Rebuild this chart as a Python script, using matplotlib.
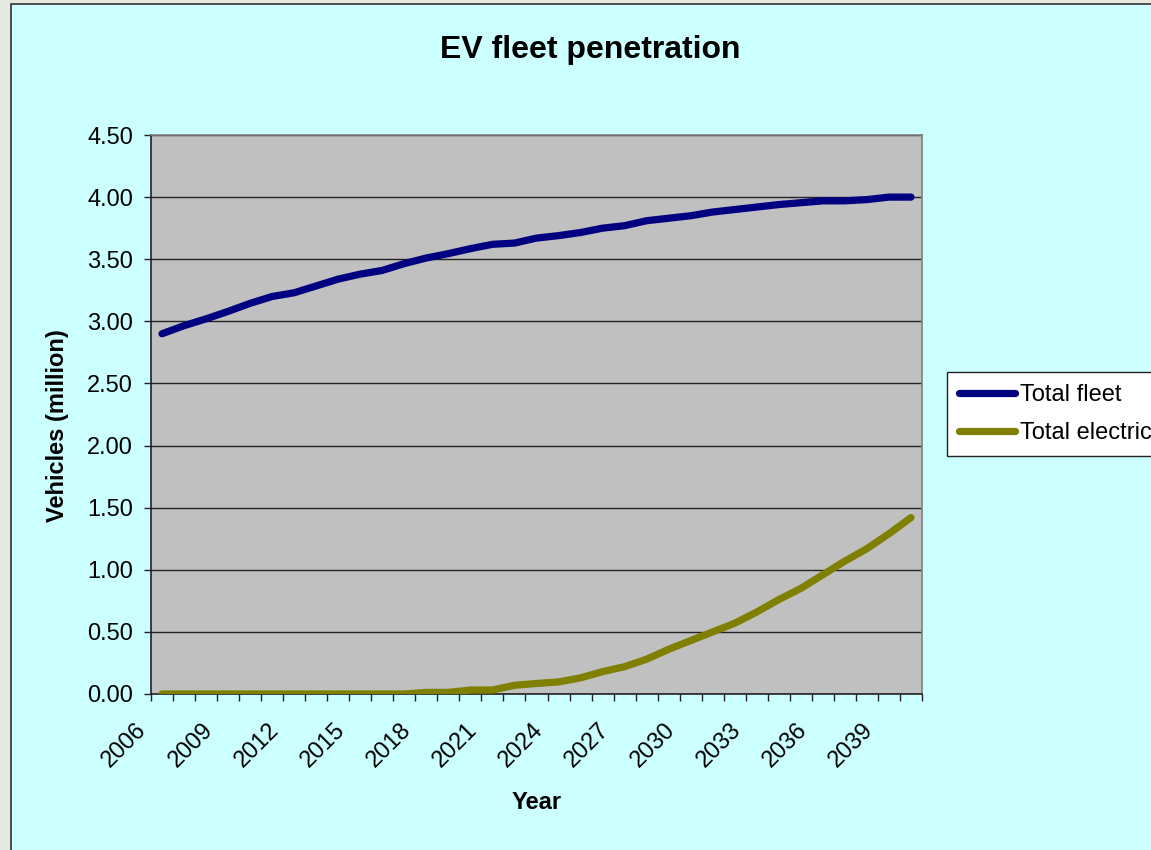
import numpy as np
import matplotlib
matplotlib.use("Agg")
import matplotlib.pyplot as plt
from matplotlib.patches import Rectangle

years = list(range(2006, 2041))

total_fleet = [2.90, 2.965, 3.02, 3.08, 3.145, 3.20, 3.23, 3.285, 3.34, 3.38,
               3.41, 3.465, 3.51, 3.545, 3.585, 3.62, 3.63, 3.67, 3.69, 3.715,
               3.75, 3.77, 3.81, 3.83, 3.85, 3.88, 3.90, 3.92, 3.94, 3.955,
               3.97, 3.97, 3.98, 4.00, 4.00]

total_electric = [0.0, 0.0, 0.0, 0.0, 0.0, 0.0, 0.0, 0.0, 0.0, 0.0,
                  0.0, 0.0, 0.013, 0.013, 0.032, 0.032, 0.07, 0.085, 0.097, 0.13,
                  0.18, 0.22, 0.28, 0.36, 0.43, 0.50, 0.57, 0.66, 0.76, 0.85,
                  0.96, 1.07, 1.17, 1.29, 1.42]

plt.rcParams['font.family'] = ['Liberation Sans', 'DejaVu Sans']

W, H = 1151, 850
fig = plt.figure(figsize=(W / 100, H / 100), dpi=100, facecolor='#E6E9DF')

# cyan chart area with dark frame, running off the right and bottom edges
fig.patches.append(Rectangle((11 / W, -0.05), 1.0, 1 - 4 / H + 0.05,
                             transform=fig.transFigure, facecolor='#CCFFFF',
                             edgecolor='#333333', linewidth=1.2, zorder=-10))

ax = fig.add_axes([151 / W, 1 - 694 / H, (922 - 151) / W, (694 - 135) / H])
ax.set_zorder(1)
ax.set_facecolor('#C0C0C0')

x = np.arange(len(years))
ax.plot(x, total_fleet, color='#000080', linewidth=5.2, solid_capstyle='round',
        label='Total fleet', zorder=3)
ax.plot(x, total_electric, color='#808000', linewidth=5.2, solid_capstyle='round',
        label='Total electric', zorder=3)

ax.set_xlim(-0.5, len(years) - 0.5)
ax.set_ylim(0, 4.5)
ax.set_yticks(np.arange(0, 4.51, 0.5))
ax.set_yticklabels(['%.2f' % v for v in np.arange(0, 4.51, 0.5)])
ax.yaxis.grid(True, color='#222222', linewidth=1)
ax.set_axisbelow(True)

bounds = np.arange(len(years) + 1) - 0.5
labels = [str(years[k]) if (k < len(years) and k % 3 == 0) else '' for k in range(len(bounds))]
ax.set_xticks(bounds)
ax.set_xticklabels(labels, rotation=45, ha='right', va='top')

ax.tick_params(axis='both', direction='out', length=5, width=1, color='#222222',
               labelsize=17, labelcolor='black')
ax.tick_params(axis='x', pad=13)
ax.tick_params(axis='y', pad=8)

for s in ['left', 'bottom']:
    ax.spines[s].set_color('#222222')
    ax.spines[s].set_linewidth(1.2)
for s in ['top', 'right']:
    ax.spines[s].set_color('#808080')
    ax.spines[s].set_linewidth(1.2)

fig.text(590 / W, 1 - 50 / H, 'EV fleet penetration', ha='center', va='center',
         fontsize=23, fontweight='bold', zorder=2)
ax.set_xlabel('Year', fontsize=17, fontweight='bold', labelpad=14)
ax.set_ylabel('Vehicles (million)', fontsize=17, fontweight='bold')
ax.yaxis.set_label_coords(-82 / (922 - 151), 0.48)

leg = fig.legend(loc='upper left', bbox_to_anchor=(947 / W, 1 - 372 / H),
                 fontsize=17, frameon=True, fancybox=False, framealpha=1,
                 handlelength=2.4, handletextpad=0.2, labelspacing=0.7,
                 borderpad=0.5, borderaxespad=0)
leg.set_zorder(2)
leg.get_frame().set_edgecolor('#222222')
leg.get_frame().set_facecolor('white')
leg.get_frame().set_linewidth(1)

fig.savefig('out.png', dpi=100, facecolor=fig.get_facecolor())
